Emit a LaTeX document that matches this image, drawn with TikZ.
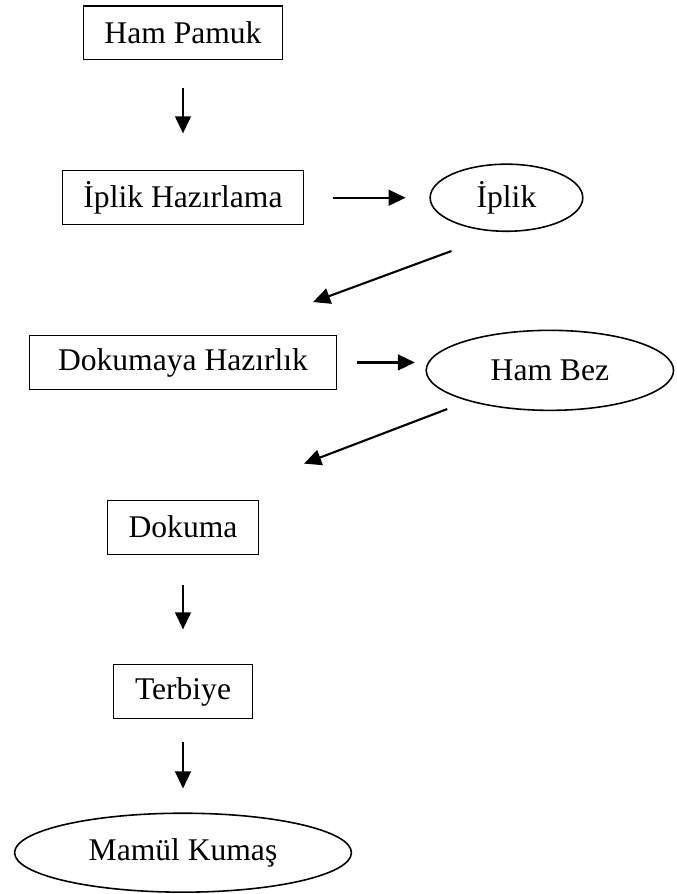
\documentclass[tikz,border=0pt]{standalone}
\usepackage{fontspec}
\setmainfont{Liberation Serif}
\usepackage{tikz}
\usetikzlibrary{shapes,arrows.meta,positioning,calc}

\begin{document}
\begin{tikzpicture}[
    node distance=2.2cm,
    process/.style={rectangle, draw=black, thin, inner xsep=8pt, minimum height=20.5pt, font=\fontsize{12pt}{14pt}\selectfont},
    product/.style={ellipse, draw=black, line width=0.6pt, inner sep=0pt, font=\fontsize{12pt}{14pt}\selectfont},
    arrow/.style={-{Triangle[length=6.5pt,width=6pt]}, thick}
]
\useasboundingbox (-69.54pt,12.54pt) rectangle (187.34pt,-327.18pt);

% Process steps
\node[process] (hampamuk) {Ham Pamuk};
\node[process, below of=hampamuk] (iplikhaz) {İplik Hazırlama};
\node[process, below of=iplikhaz, minimum width=117pt] (dokhaz) {Dokumaya Hazırlık};
\node[process, below of=dokhaz] (dokuma) {Dokuma};
\node[process, below of=dokuma] (terbiye) {Terbiye};

% Products
\node[product, right of=iplikhaz, xshift=2.12cm, minimum width=58pt, minimum height=25.5pt] (iplik) {İplik};
\node[product, right of=dokhaz, xshift=2.7cm, yshift=-3pt, minimum width=94pt, minimum height=30.4pt] (hambez) {Ham Bez};
\node[product, below of=terbiye, yshift=1.5pt, minimum width=128pt, minimum height=30pt] (mamul) {Mamül Kumaş};

% Connections
\draw[arrow, shorten <=10.3pt, shorten >=14pt] (hampamuk) -- (iplikhaz);
\draw[arrow, shorten <=11pt, shorten >=9pt] (iplikhaz) -- (iplik);
\draw[arrow] ([xshift=-20.9pt, yshift=-7.2pt]iplik.south) -- ([xshift=49.4pt, yshift=12.5pt]dokhaz.north);
\draw[arrow, shorten <=7.6pt, shorten >=4pt] (dokhaz.east) -- (dokhaz.east -| hambez.west);
\draw[arrow] ([xshift=-39pt, yshift=0.8pt]hambez.south) -- ([xshift=46pt, yshift=13.7pt]dokuma.north);
\draw[arrow, shorten <=11.4pt, shorten >=13.3pt] (dokuma) -- (terbiye);
\draw[arrow, shorten <=8.4pt, shorten >=9.1pt] (terbiye) -- (mamul);

\end{tikzpicture}
\end{document}
